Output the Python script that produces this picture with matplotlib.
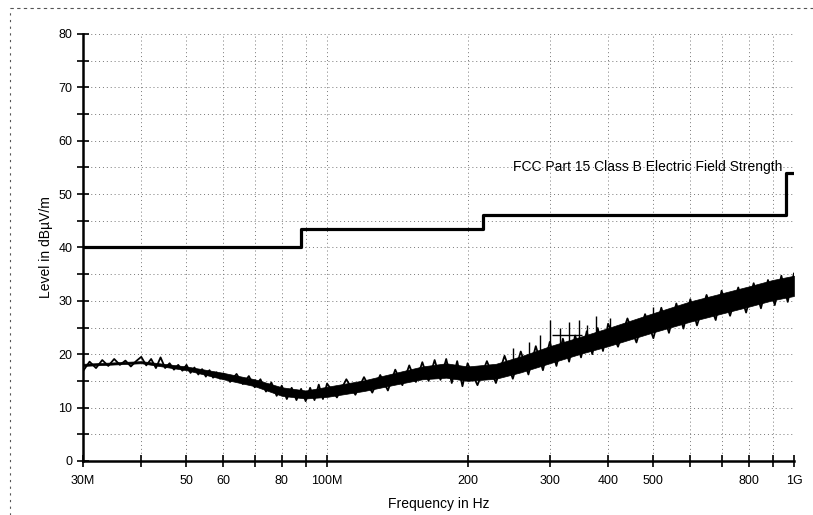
import matplotlib.pyplot as plt
from matplotlib.lines import Line2D

plt.rcParams['font.family'] = ['Liberation Sans', 'DejaVu Sans']

trace_freq = [30, 31, 32, 33, 34, 35, 36, 37, 38, 39, 40, 41, 42, 43, 44, 45, 46, 47, 48,
              49, 50, 51, 52, 53, 54, 55, 56, 57, 58, 59, 60, 62, 64, 66, 68, 70, 72, 74,
              76, 78, 80, 82, 84, 86, 88, 90, 92, 94, 96, 98, 100, 105, 110, 115, 120, 125,
              130, 135, 140, 145, 150, 155, 160, 165, 170, 175, 180, 185, 190, 195, 200,
              210, 220, 230, 240, 250, 260, 270, 280, 290, 300, 310, 320, 330, 340, 350,
              360, 370, 380, 390, 400, 420, 440, 460, 480, 500, 520, 540, 560, 580, 600,
              620, 650, 680, 700, 730, 760, 790, 820, 850, 880, 910, 940, 970, 1000]
trace_level = [16.8, 18.6, 17.4, 18.9, 17.8, 19.1, 18.0, 18.8, 17.7, 18.7, 19.5, 17.9,
               19.1, 17.4, 19.4, 17.4, 18.3, 17.1, 18.0, 16.9, 18.0, 16.5, 17.5, 16.2,
               17.2, 15.8, 17.0, 15.6, 16.6, 15.4, 16.4, 14.8, 16.3, 14.4, 15.9, 13.8,
               15.3, 13.0, 14.7, 12.2, 14.1, 11.6, 13.7, 11.4, 13.5, 11.2, 13.7, 11.4,
               14.3, 11.6, 14.5, 11.9, 15.3, 12.4, 15.7, 12.8, 16.1, 13.2, 17.1, 14.2,
               17.9, 14.8, 18.5, 15.0, 18.9, 15.2, 19.1, 14.6, 18.7, 14.0, 18.3, 14.2,
               18.7, 14.6, 19.7, 15.4, 20.5, 16.2, 21.5, 17.0, 22.3, 17.8, 22.9, 18.6,
               23.5, 19.4, 24.3, 20.0, 24.9, 20.6, 25.7, 21.4, 26.7, 22.2, 27.5, 23.0,
               28.7, 24.0, 29.5, 24.8, 30.3, 25.4, 31.1, 26.4, 31.9, 27.2, 32.5, 27.8,
               33.3, 28.6, 33.9, 29.2, 34.7, 29.8, 35.1]

# solid core of the noise band
band_freq = [30, 40, 50, 60, 70, 80, 90, 100, 120, 140, 160, 180, 200, 230, 260, 300,
             350, 400, 500, 600, 700, 800, 900, 1000]
band_lo = [17.8, 18.3, 17.0, 15.3, 14.0, 12.2, 11.7, 12.0, 13.1, 14.3, 15.3, 15.6, 15.0,
           15.4, 16.6, 18.3, 20.1, 21.5, 24.1, 26.1, 27.6, 28.9, 30.1, 30.9]
band_hi = [18.2, 18.7, 17.7, 16.5, 15.3, 13.8, 13.2, 13.9, 15.1, 16.5, 17.7, 18.3, 17.7,
           18.2, 19.6, 21.5, 23.3, 24.9, 27.7, 29.9, 31.4, 32.7, 33.9, 34.7]

# single spikes above the noise floor
spike_freq = [250, 271, 286, 301, 316, 330, 346, 361, 376, 403, 500]
spike_base = [18.0, 18.8, 19.4, 20.0, 20.6, 21.1, 21.6, 22.0, 22.4, 23.2, 25.5]
spike_top = [21.2, 22.3, 23.6, 26.4, 24.9, 26.1, 26.4, 25.5, 27.2, 26.8, 28.9]

# FCC Part 15 Class B limit (MHz, dBuV/m)
limit_freq = [30, 88, 88, 216, 216, 960, 960, 1000]
limit_level = [40, 40, 43.5, 43.5, 46, 46, 54, 54]

x_ticks = [30, 40, 50, 60, 70, 80, 90, 100, 200, 300, 400, 500, 600, 700, 800, 900, 1000]
x_labels = ['30M', '', '50', '60', '', '80', '', '100M', '200', '300', '400', '500',
            '', '', '800', '', '1G']

fig = plt.figure(figsize=(8.13, 5.15), dpi=100)
ax = fig.add_axes([0.102, 0.105, 0.8745, 0.829])

grid_kw = dict(color='#777777', linestyle=(0, (1, 3)), linewidth=0.7, zorder=0)
for f in x_ticks[1:-1]:
    ax.axvline(f, **grid_kw)
for v in range(5, 81, 5):
    ax.axhline(v, **grid_kw)

ax.fill_between(band_freq, band_lo, band_hi, color='black', linewidth=0.5, zorder=2)
ax.plot(trace_freq, trace_level, color='black', linewidth=1.3, zorder=2)
ax.vlines(spike_freq, spike_base, spike_top, color='black', linewidth=1.0, zorder=2)
ax.hlines(23.6, 303, 352, color='black', linewidth=1.0, zorder=2)

ax.plot(limit_freq, limit_level, color='black', linewidth=2.3, zorder=3)
ax.text(945, 54.4, 'FCC Part 15 Class B Electric Field Strength', ha='right',
        va='baseline', fontsize=10)

ax.set_xscale('log')
ax.set_xlim(30, 1000)
ax.set_ylim(0, 80)
ax.set_xticks(x_ticks)
ax.set_xticklabels(x_labels)
ax.minorticks_off()
ax.set_yticks(range(0, 81, 10))
ax.set_yticks(range(5, 80, 10), minor=True)
ax.tick_params(axis='both', direction='inout', length=8, width=1.2, labelsize=9)
ax.tick_params(axis='y', which='minor', direction='inout', length=8, width=1.2)
ax.tick_params(axis='x', pad=6)

for s in ['top', 'right']:
    ax.spines[s].set_visible(False)
ax.spines['left'].set_linewidth(1.8)
ax.spines['bottom'].set_linewidth(1.8)

ax.set_xlabel('Frequency in Hz', fontsize=10, labelpad=7)
ax.set_ylabel('Level in dB\u00b5V/m', fontsize=10, labelpad=4)

# dashed border of the scanned page
fig.add_artist(Line2D([0.012, 0.012], [0.0, 0.984], color='#555555',
                      linestyle=(0, (2, 4)), linewidth=0.8))
fig.add_artist(Line2D([0.012, 1.0], [0.984, 0.984], color='#555555',
                      linestyle=(0, (3, 3)), linewidth=0.8))

fig.savefig('out.png', dpi=100)
